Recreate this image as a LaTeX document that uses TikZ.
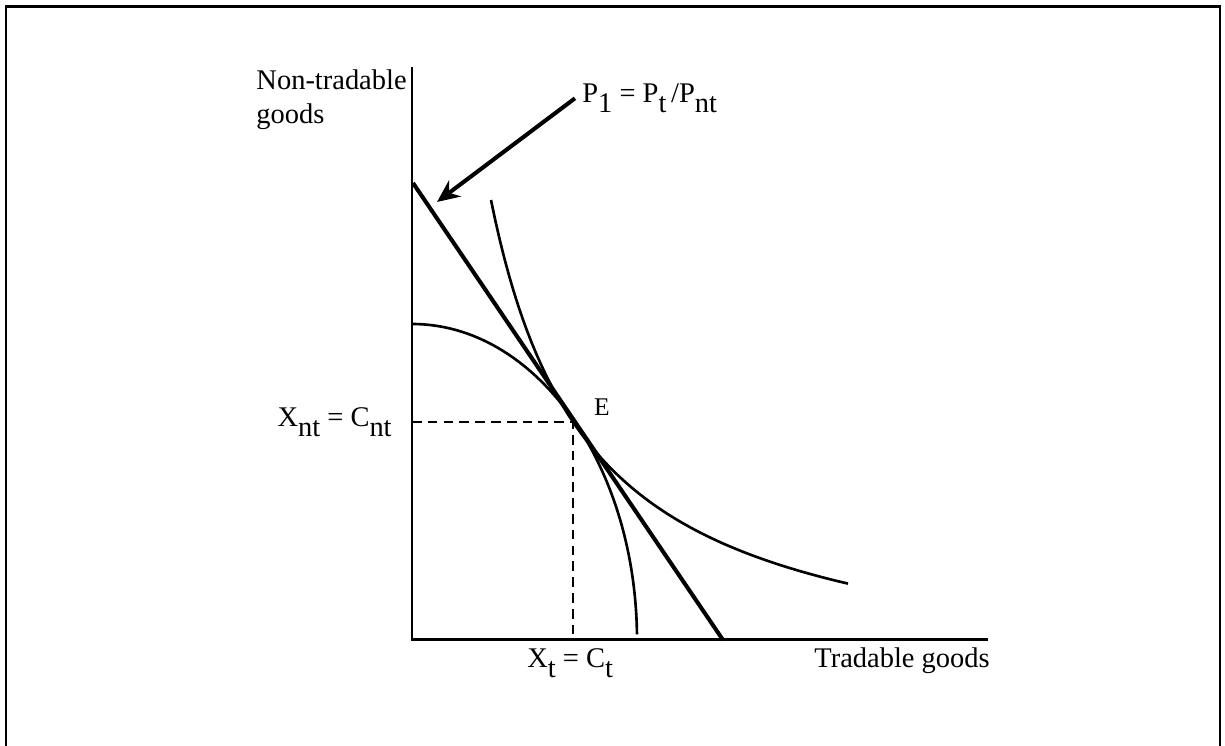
\documentclass[tikz,border=0pt]{standalone}
\usepackage{fontspec}
\setmainfont{Liberation Serif}
\usetikzlibrary{arrows.meta, positioning}
\newcommand{\lowsub}[1]{\raisebox{-0.32em}{#1}}

\begin{document}
\begin{tikzpicture}[x=0.02cm, y=0.02cm,
  lbl/.style={font=\fontsize{16.2}{19.5}\selectfont, inner sep=0pt},
  axis/.style={line width=1.7pt},
  curve/.style={line width=1.5pt},
  budget/.style={line width=2.3pt},
  guide/.style={line width=1.4pt, dash pattern=on 5.5pt off 3.5pt},
  pointer/.style={line width=2.3pt, -{Stealth[length=4.5mm, width=4mm]}}
]
\useasboundingbox (-412,-106) rectangle (813,640);
% frame (open at the bottom)
\draw[line width=1.7pt] (-406,-106) -- (-406,633) -- (808,633) -- (808,-106);

% axes
\coordinate (o)    at (0,0);
\coordinate (ytop) at (0,573);
\coordinate (xend) at (576,0);
\draw[axis] (ytop) -- (o) -- (xend);

% points
\coordinate (E)    at (161,218);
\coordinate (Ey)   at (0,218);
\coordinate (Ex)   at (161,0);
\coordinate (btop) at (1,457);
\coordinate (bbot) at (311,0);
\coordinate (ptop) at (0,316);
\coordinate (tip)  at (25,438);

% production possibility frontier
\draw[curve] (ptop) arc[start angle=90, end angle=1, x radius=225, y radius=316];
% indifference curve
\draw[curve] plot[domain=79:436, samples=80] (\x, {-50+485.08/((\x+20)/100)});
% relative price line
\draw[budget] (btop) -- (bbot);
% guides to E
\draw[guide] (Ey) -- (E) -- (Ex);

% labels
\node[lbl, align=left, anchor=east] (ylab) at (-5,540) {Non-tradable\\goods};
\node[lbl, anchor=base east] (xlab) at (578,-28) {Tradable goods};
\node[lbl, anchor=base west] (xt)   at (115,-28) {X\lowsub{t} = C\lowsub{t}};
\node[lbl, anchor=base east] (xnt)  at (-20,213) {X\lowsub{nt} = C\lowsub{nt}};
\node[lbl, font=\fontsize{14.5}{15}\selectfont] (elab) at (190,233) {E};
\node[lbl, anchor=base west] (plab) at (170,537) {P\lowsub{1} = P\lowsub{t}\,/P\lowsub{nt}};

\draw[pointer] ([xshift=-4pt]plab.west) -- (tip);
\end{tikzpicture}
\end{document}
